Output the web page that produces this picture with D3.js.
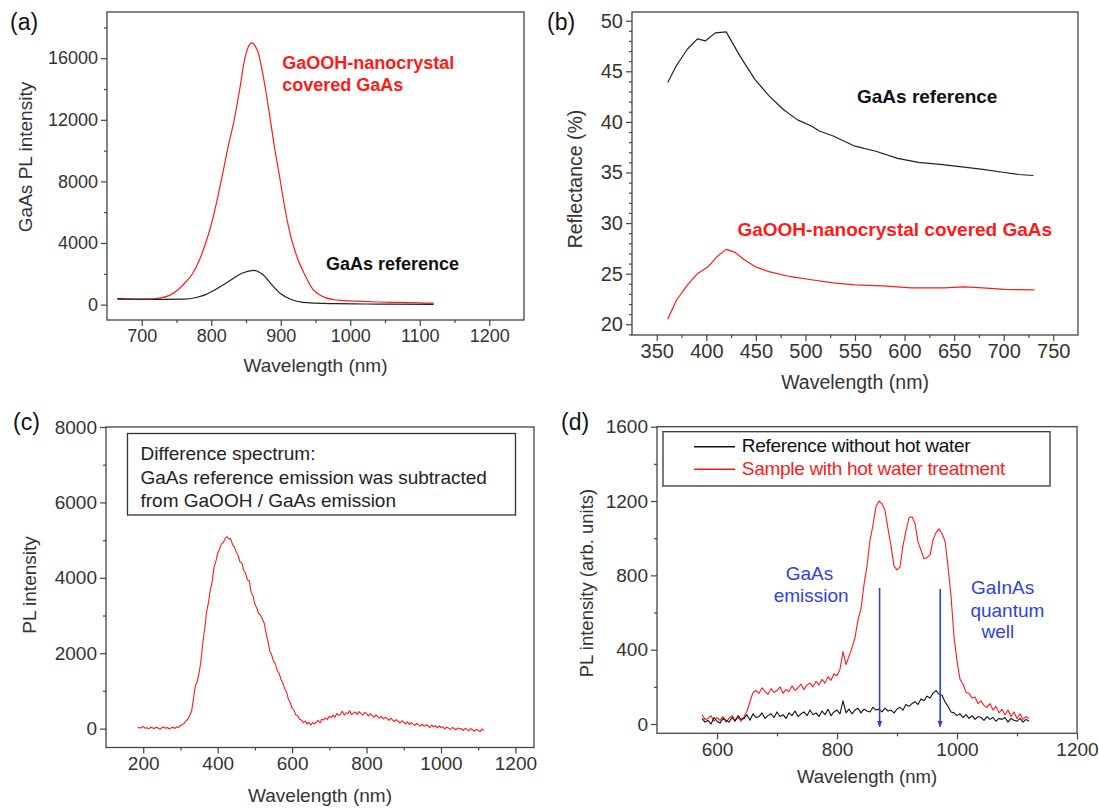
<!DOCTYPE html>
<html>
<head>
<meta charset="utf-8">
<script src="https://cdn.jsdelivr.net/npm/d3@7"></script>
<style>
    body { margin: 0; background: #fff; }
    svg { font-family: "Liberation Sans", Arial, sans-serif; }
</style>
</head>
<body>
<svg id="fig" width="1099" height="809"></svg>
<script>
// ---- (a) GaAs PL, smooth curves ----
const aWavelength = [665, 690, 710, 725, 740, 753, 763, 773, 783, 792, 800, 808, 816, 824, 833, 841, 848, 853, 858, 863, 868, 872, 878, 885, 891, 898, 905, 911, 917, 925, 934, 940, 946, 955, 964, 975, 990, 1010, 1040, 1070, 1100, 1120];
const aCovered = [330, 330, 350, 420, 600, 1000, 1450, 2000, 2900, 4000, 5200, 6700, 8400, 10200, 12000, 14000, 15900, 16700, 17000, 16800, 16300, 15500, 14000, 12000, 10200, 8400, 6500, 5100, 4000, 2900, 2000, 1450, 1000, 650, 450, 330, 260, 220, 170, 140, 110, 90];
const aRefWavelength = [665, 700, 730, 760, 780, 792, 805, 816, 830, 845, 861, 874, 888, 900, 915, 932, 950, 980, 1020, 1060, 1120];
const aReference = [390, 360, 340, 350, 480, 650, 950, 1250, 1650, 2050, 2220, 1950, 1250, 700, 330, 140, 90, 60, 40, 30, 20];

// ---- (b) reflectance ----
const bRefWavelength = [361, 370, 381, 391, 399, 409, 420, 434, 449, 463, 478, 492, 506, 514, 528, 550, 571, 593, 614, 636, 658, 679, 701, 715, 730];
const bReference = [43.9, 45.6, 47.2, 48.2, 48.0, 48.8, 48.9, 46.5, 44.2, 42.6, 41.2, 40.2, 39.6, 39.1, 38.6, 37.6, 37.1, 36.4, 36.0, 35.8, 35.55, 35.3, 35.0, 34.8, 34.7];
const bCovWavelength = [361, 370, 381, 391, 402, 411, 420, 429, 438, 449, 463, 485, 506, 528, 550, 578, 607, 640, 661, 679, 701, 731];
const bCovered = [20.5, 22.4, 23.9, 25.0, 25.7, 26.7, 27.4, 27.1, 26.4, 25.7, 25.2, 24.7, 24.4, 24.1, 23.9, 23.8, 23.6, 23.6, 23.7, 23.6, 23.45, 23.4];

// ---- (c) difference spectrum, 5 nm steps from 185 nm ----
const cStart = 185, cStep = 5;
const cDifference = [
    40, 15, 30, 55, 10, 25, -5, 35, 20, 5,
    40, 15, -15, 25, 45, 10, 30, -10, 20, 35,
    5, 50, 30, 85, 110, 140, 210, 250, 350, 460,
    790, 1130, 1250, 1470, 1780, 2270, 2630, 3080, 3330, 3670,
    3880, 4270, 4430, 4650, 4760, 4900, 4930, 5040, 5090, 5030,
    5040, 4880, 4820, 4680, 4600, 4420, 4400, 4200, 4120, 3940,
    3920, 3620, 3520, 3300, 3200, 3060, 3020, 2900, 2800, 2540,
    2320, 2060, 1960, 1790, 1720, 1540, 1470, 1310, 1220, 1060,
    980, 780, 700, 540, 490, 360, 350, 250, 230, 160,
    200, 120, 170, 90, 160, 130, 170, 220, 150, 250,
    230, 290, 240, 330, 300, 360, 300, 400, 350, 380,
    460, 360, 420, 400, 470, 370, 410, 440, 380, 450,
    400, 360, 430, 410, 330, 400, 350, 300, 370, 320,
    280, 330, 260, 300, 270, 220, 280, 230, 190, 240,
    200, 150, 210, 170, 130, 180, 110, 160, 120, 90,
    140, 100, 70, 120, 60, 100, 80, 30, 90, 50,
    80, 20, 70, 30, 50, -10, 40, 20, -20, 30,
    10, -30, 20, -10, 0, -50, 10, -20, -60, 0,
    -30, -70, -20, -40, -80, -10, -40
];

// ---- (d) PL with / without hot water, 5 nm steps from 575 nm ----
const dStart = 575, dStep = 5;
const dTreated = [
    50, 25, 30, 45, 15, 35, 20, 40, 10, 30,
    45, 20, 35, 15, 40, 70, 120, 170, 180, 165,
    195, 175, 160, 190, 170, 180, 200, 165, 185, 175,
    205, 180, 195, 215, 185, 210, 220, 200, 230, 210,
    240, 220, 255, 235, 270, 260, 295, 390, 320, 365,
    410, 465, 560, 620, 750, 850, 990, 1070, 1170, 1200,
    1185, 1150, 1050, 960, 850, 830, 845, 960, 1040, 1110,
    1115, 1080, 980, 935, 890, 895, 910, 990, 1030, 1050,
    1025, 985, 850, 690, 470, 340, 240, 215, 170, 165,
    140, 145, 110, 125, 100, 90, 110, 75, 95, 60,
    80, 50, 75, 40, 65, 30, 55, 25, 40, 30
];
const dReference = [
    30, 10, 20, 0, 35, 15, 5, 30, 20, 10,
    35, 15, 45, 25, 30, 50, 20, 55, 35, 40,
    60, 30, 45, 55, 35, 65, 40, 50, 30, 60,
    45, 70, 40, 55, 65, 45, 75, 50, 60, 40,
    70, 50, 80, 45, 65, 75, 55, 125, 60, 80,
    55, 75, 85, 60, 80, 70, 65, 90, 75, 80,
    65, 85, 70, 75, 60, 80, 90, 75, 105, 95,
    110, 120, 105, 135, 125, 150, 140, 165, 180, 160,
    155, 120, 95, 65, 60, 45, 55, 35, 50, 30,
    45, 25, 40, 35, 20, 40, 25, 35, 15, 30,
    25, 35, 10, 30, 20, 15, 30, 10, 25, 15
];
const dLegend = ["Reference without hot water", "Sample with hot water treatment"];
const dArrowAt = [871, 972];

const RED = "#ff1a1a", INK = "#333", AXIS = "#444", BLUE = "#2f3fe8";
const svg = d3.select("#fig");

function toPairs(xs, ys) { return xs.map((v, i) => [v, ys[i]]); }
function stepPairs(start, step, ys) { return ys.map((v, i) => [start + i * step, v]); }

function drawPanel(p) {
    const x = d3.scaleLinear().domain(p.xDomain).range([p.left, p.right]);
    const y = d3.scaleLinear().domain(p.yDomain).range([p.bottom, p.top]);
    const g = svg.append("g");

    const styleAxis = sel => {
        sel.select(".domain").remove();
        sel.selectAll("line").attr("stroke", AXIS).attr("stroke-width", 1.2);
        sel.selectAll("text").attr("fill", INK).style("font-size", p.tickFont + "px");
    };

    g.append("g").attr("transform", `translate(0,${p.bottom})`)
        .call(d3.axisBottom(x).tickValues(p.xMinor).tickSize(3).tickFormat(""))
        .call(styleAxis);
    g.append("g").attr("transform", `translate(0,${p.bottom})`)
        .call(d3.axisBottom(x).tickValues(p.xTicks).tickSize(6).tickPadding(3).tickFormat(d3.format("d")))
        .call(styleAxis);
    g.append("g").attr("transform", `translate(${p.left},0)`)
        .call(d3.axisLeft(y).tickValues(p.yMinor).tickSize(3).tickFormat(""))
        .call(styleAxis);
    g.append("g").attr("transform", `translate(${p.left},0)`)
        .call(d3.axisLeft(y).tickValues(p.yTicks).tickSize(6).tickPadding(3).tickFormat(d3.format("d")))
        .call(styleAxis);

    g.append("rect")
        .attr("x", p.left).attr("y", p.top)
        .attr("width", p.right - p.left).attr("height", p.bottom - p.top)
        .attr("fill", "none").attr("stroke", AXIS).attr("stroke-width", 1.3);

    p.series.forEach(s => {
        const line = d3.line().x(d => x(d[0])).y(d => y(d[1])).curve(s.curve || d3.curveLinear);
        g.append("path").datum(s.data)
            .attr("d", line)
            .attr("fill", "none")
            .attr("stroke", s.color)
            .attr("stroke-width", s.width || 1.2)
            .attr("stroke-linejoin", "round");
    });

    // axis titles
    g.append("text")
        .attr("x", (p.left + p.right) / 2).attr("y", p.xTitleY)
        .attr("text-anchor", "middle").attr("fill", INK)
        .style("font-size", p.titleFont + "px")
        .text("Wavelength (nm)");
    g.append("text")
        .attr("transform", `translate(${p.yTitleX},${p.yTitleCy}) rotate(-90)`)
        .attr("text-anchor", "middle").attr("fill", INK)
        .style("font-size", p.titleFont + "px")
        .text(p.yTitle);

    // panel letter
    g.append("text")
        .attr("x", p.letterX).attr("y", p.letterY)
        .attr("fill", "#111").style("font-size", "23px")
        .text(p.letter);

    return { g, x, y };
}

// ---------- (a) ----------
const pa = drawPanel({
    left: 107, right: 524, top: 12, bottom: 320,
    xDomain: [650, 1250], yDomain: [-1000, 19000],
    xTicks: [700, 800, 900, 1000, 1100, 1200], xMinor: [750, 850, 950, 1050, 1150],
    yTicks: [0, 4000, 8000, 12000, 16000], yMinor: [2000, 6000, 10000, 14000, 18000],
    tickFont: 18, titleFont: 19,
    xTitleY: 372, yTitle: "GaAs PL intensity", yTitleX: 32, yTitleCy: 157,
    letter: "(a)", letterX: 10, letterY: 30,
    series: [
        { data: toPairs(aWavelength, aCovered), color: RED, curve: d3.curveMonotoneX },
        { data: toPairs(aRefWavelength, aReference), color: "#222", curve: d3.curveMonotoneX }
    ]
});
pa.g.append("text").attr("x", pa.x(902)).attr("y", pa.y(15300))
    .attr("fill", RED).style("font-size", "18px").style("font-weight", "bold")
    .text("GaOOH-nanocrystal");
pa.g.append("text").attr("x", pa.x(902)).attr("y", pa.y(13900))
    .attr("fill", RED).style("font-size", "18px").style("font-weight", "bold")
    .text("covered GaAs");
pa.g.append("text").attr("x", pa.x(965)).attr("y", pa.y(2250))
    .attr("fill", "#111").style("font-size", "18px").style("font-weight", "bold")
    .text("GaAs reference");

// ---------- (b) ----------
const pb = drawPanel({
    left: 632, right: 1078, top: 12, bottom: 335,
    xDomain: [325, 775], yDomain: [18.94, 50.86],
    xTicks: d3.range(350, 751, 50), xMinor: d3.range(375, 726, 50),
    yTicks: d3.range(20, 51, 5), yMinor: d3.range(19, 51, 1).filter(v => v % 5 !== 0),
    tickFont: 20, titleFont: 19.5,
    xTitleY: 389, yTitle: "Reflectance (%)", yTitleX: 582, yTitleCy: 179,
    letter: "(b)", letterX: 547, letterY: 30,
    series: [
        { data: toPairs(bRefWavelength, bReference), color: "#222" },
        { data: toPairs(bCovWavelength, bCovered), color: RED }
    ]
});
pb.g.append("text").attr("x", pb.x(552)).attr("y", pb.y(41.84))
    .attr("fill", "#111").style("font-size", "19px").style("font-weight", "bold")
    .text("GaAs reference");
pb.g.append("text").attr("x", pb.x(431.4)).attr("y", pb.y(28.73))
    .attr("fill", RED).style("font-size", "19px").style("font-weight", "bold")
    .text("GaOOH-nanocrystal covered GaAs");

// ---------- (c) ----------
const pc = drawPanel({
    left: 106, right: 534, top: 427, bottom: 747.5,
    xDomain: [100, 1250], yDomain: [-500, 8000],
    xTicks: [200, 400, 600, 800, 1000, 1200], xMinor: [300, 500, 700, 900, 1100],
    yTicks: [0, 2000, 4000, 6000, 8000], yMinor: [1000, 3000, 5000, 7000],
    tickFont: 19, titleFont: 19,
    xTitleY: 802, yTitle: "PL intensity", yTitleX: 36, yTitleCy: 585,
    letter: "(c)", letterX: 13, letterY: 430,
    series: [
        { data: stepPairs(cStart, cStep, cDifference), color: RED, width: 1.1 }
    ]
});
pc.g.append("rect").attr("x", 127.5).attr("y", 433.5).attr("width", 388).attr("height", 81.5)
    .attr("fill", "#fff").attr("stroke", "#333").attr("stroke-width", 1.3);
["Difference spectrum:", "GaAs reference emission was subtracted", "from GaOOH / GaAs emission"]
    .forEach((t, i) => {
        pc.g.append("text").attr("x", 140.5).attr("y", 460 + i * 23.5)
            .attr("fill", "#222").style("font-size", "19px").text(t);
    });

// ---------- (d) ----------
const pd = drawPanel({
    left: 657, right: 1077, top: 426.7, bottom: 733.3,
    xDomain: [500, 1200], yDomain: [-50, 1600],
    xTicks: [600, 800, 1000, 1200], xMinor: [700, 900, 1100],
    yTicks: [0, 400, 800, 1200, 1600], yMinor: [200, 600, 1000, 1400],
    tickFont: 19, titleFont: 18.5,
    xTitleY: 783, yTitle: "PL intensity (arb. units)", yTitleX: 593, yTitleCy: 583,
    letter: "(d)", letterX: 561, letterY: 430,
    series: [
        { data: stepPairs(dStart, dStep, dTreated), color: RED, width: 1.1 },
        { data: stepPairs(dStart, dStep, dReference), color: "#111", width: 1.1 }
    ]
});

svg.append("defs").append("marker")
    .attr("id", "arrow").attr("viewBox", "0 0 10 10")
    .attr("refX", 9).attr("refY", 5)
    .attr("markerWidth", 4).attr("markerHeight", 5)
    .attr("orient", "auto")
    .append("path").attr("d", "M0,1 L10,5 L0,9 Z").attr("fill", BLUE);

dArrowAt.forEach((wl, i) => {
    pd.g.append("line")
        .attr("x1", pd.x(wl)).attr("x2", pd.x(wl))
        .attr("y1", pd.y(i === 0 ? 733 : 727)).attr("y2", pd.y(-15))
        .attr("stroke", BLUE).attr("stroke-width", 1.6)
        .attr("marker-end", "url(#arrow)");
});

[["GaAs", 754, 775], ["emission", 757, 658], ["GaInAs", 1076, 698], ["quantum", 1084, 577], ["well", 1068, 461]]
    .forEach(([t, wl, v]) => {
        pd.g.append("text").attr("x", pd.x(wl)).attr("y", pd.y(v))
            .attr("text-anchor", "middle").attr("fill", BLUE)
            .style("font-size", "19px").text(t);
    });

pd.g.append("rect").attr("x", 663).attr("y", 431.7).attr("width", 387).attr("height", 54.3)
    .attr("fill", "#fff").attr("stroke", "#333").attr("stroke-width", 1.3);
[["#111", 446.7, 452.3], [RED, 469.3, 475.2]].forEach(([c, ly, ty], i) => {
    pd.g.append("line").attr("x1", 694).attr("x2", 735).attr("y1", ly).attr("y2", ly)
        .attr("stroke", c).attr("stroke-width", 1.4);
    pd.g.append("text").attr("x", 741.8).attr("y", ty)
        .attr("fill", c).style("font-size", "19px").style("letter-spacing", "-0.3px")
        .text(dLegend[i]);
});
</script>
</body>
</html>
